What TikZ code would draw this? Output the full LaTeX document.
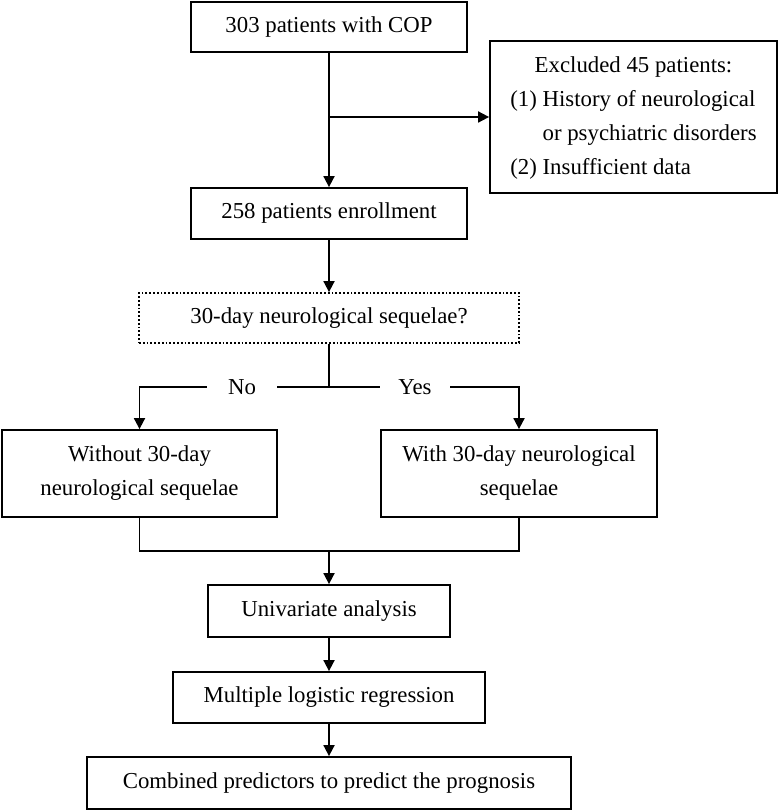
\documentclass[tikz,border=0pt]{standalone}
\usepackage{fontspec}
\setmainfont{Liberation Serif}
\usetikzlibrary{arrows.meta}

\begin{document}
\begin{tikzpicture}[x=0.5pt,y=-0.5pt,line width=0.9pt,
    every node/.style={font=\fontsize{11.4}{17}\selectfont},
    box/.style={draw,inner sep=0pt,minimum height=25pt,align=center},
    dotbox/.style={box,densely dotted},
    lbl/.style={fill=white,inner sep=0pt,minimum width=35pt,minimum height=14pt},
    flow/.style={-{Triangle[length=5.5pt,width=5.5pt]}}]
    \useasboundingbox (0,0) rectangle (780,812);

    % boxes
    \node[box,minimum width=138pt] (cop) at (329,27) {303 patients with COP};
    \node[box,minimum width=143.5pt,minimum height=76pt] (excl) at (633.5,117) {%
        \begin{tabular}{@{}l@{\ }l@{}}
        \multicolumn{2}{c}{Excluded 45 patients:}\\
        (1) & History of neurological\\
            & or psychiatric disorders\\
        (2) & Insufficient data
        \end{tabular}};
    \node[box,minimum width=138pt,minimum height=25.5pt] (enrol) at (329,213.5) {258 patients enrollment};
    \node[dotbox,minimum width=190pt] (seq) at (329,318) {30-day neurological sequelae?};
    \node[box,minimum width=137.5pt,minimum height=43.5pt] (without) at (139.5,473.5) {Without 30-day\\neurological sequelae};
    \node[box,minimum width=138pt,minimum height=43.5pt] (with) at (519,473.5) {With 30-day neurological\\sequelae};
    \node[box,minimum width=121pt,minimum height=26pt] (uni) at (329,611) {Univariate analysis};
    \node[box,minimum width=156pt,minimum height=25.5pt] (multi) at (329,697.5) {Multiple logistic regression};
    \node[box,minimum width=242pt,minimum height=26pt] (comb) at (329,783) {Combined predictors to predict the prognosis};

    % connectors
    \draw[flow] (cop) -- (enrol);
    \draw[flow] (cop.south |- excl.west) -- (excl.west);
    \draw[flow] (enrol) -- (seq);

    \coordinate (split) at (329,387);
    \draw (seq.south) -- (split);
    \draw[flow] (split) -| (without.north);
    \draw[flow] (split) -| (with.north);
    \node[lbl] (no) at (242,387) {No};
    \node[lbl] (yes) at (415,387) {Yes};

    \coordinate (join) at (329,551);
    \draw (without.south) |- (join) -| (with.south);
    \draw[flow] (join) -- (uni.north);
    \draw[flow] (uni) -- (multi);
    \draw[flow] (multi) -- (comb);
\end{tikzpicture}
\end{document}
